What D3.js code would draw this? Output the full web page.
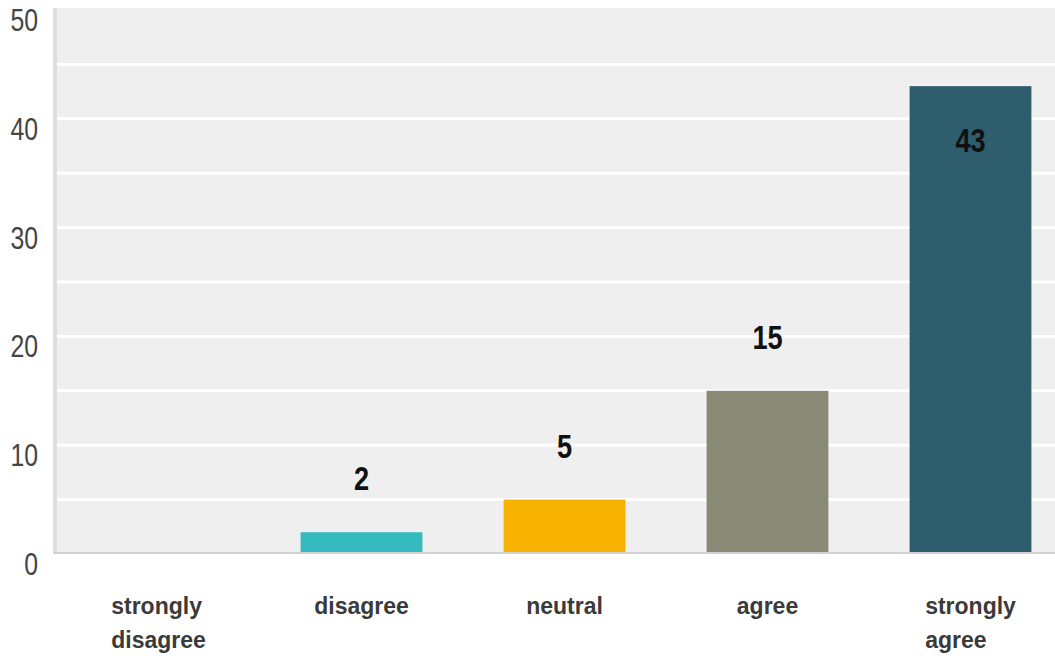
<!DOCTYPE html>
<html>
<head>
<meta charset="utf-8">
<script src="https://cdn.jsdelivr.net/npm/d3@7"></script>
<style>
  html, body { margin: 0; padding: 0; background: #ffffff; }
  svg { display: block; }
</style>
</head>
<body>
<svg id="chart" width="1055" height="656"></svg>
<script>
const categories = ["strongly disagree", "disagree", "neutral", "agree", "strongly agree"];
const categoryLines = [["strongly", "disagree"], ["disagree"], ["neutral"], ["agree"], ["strongly", "agree"]];
const values = [0, 2, 5, 15, 43];
const colors = ["#35babf", "#35babf", "#f7b200", "#888a76", "#2e5d6d"];
const yTicks = [0, 10, 20, 30, 40, 50];
const gridValues = [5, 10, 15, 20, 25, 30, 35, 40, 45];

(function () {
const W = 1055;
const plotLeft = 57, plotTop = 8, plotBottom = 554;
const svg = d3.select("#chart");

const y = d3.scaleLinear().domain([0, 50]).range([plotBottom, 10]);
const x = d3.scaleBand().domain(categories).range([plotLeft, plotLeft + 1015])
  .paddingInner(0.4).paddingOuter(0.2);

// plot background
svg.append("rect").attr("x", plotLeft).attr("y", plotTop)
  .attr("width", W - plotLeft).attr("height", plotBottom - plotTop).attr("fill", "#efefef");
// left axis band
svg.append("rect").attr("x", 53).attr("y", plotTop)
  .attr("width", 4).attr("height", plotBottom - plotTop).attr("fill", "#dedede");

// gridlines
svg.append("g").selectAll("line").data(gridValues).join("line")
  .attr("x1", plotLeft).attr("x2", W)
  .attr("y1", d => y(d)).attr("y2", d => y(d))
  .attr("stroke", "#ffffff").attr("stroke-width", 3);

// bars
svg.append("g").selectAll("rect").data(values).join("rect")
  .attr("x", (d, i) => x(categories[i]))
  .attr("width", x.bandwidth())
  .attr("y", d => y(d))
  .attr("height", d => y(0) - y(d))
  .attr("fill", (d, i) => colors[i])
  .attr("display", d => d > 0 ? null : "none");

// bottom axis line
svg.append("line").attr("x1", 53).attr("x2", W)
  .attr("y1", y(0) - 1).attr("y2", y(0) - 1)
  .attr("stroke", "#d2d2d2").attr("stroke-width", 2);

// y tick labels
svg.append("g").selectAll("text").data(yTicks).join("text")
  .attr("transform", d => `translate(38,${y(d) + 21}) scale(0.8,1)`)
  .attr("text-anchor", "end")
  .attr("font-family", "'Liberation Sans Narrow', 'Liberation Sans', Arial, sans-serif")
  .attr("font-size", 31)
  .attr("fill", "#444444")
  .text(d => d);

// value labels
svg.append("g").selectAll("text").data(values).join("text")
  .attr("transform", (d) => {
    return null;
  })
  .attr("transform", (d, i) => {
    const cx = x(categories[i]) + x.bandwidth() / 2;
    const inside = y(d) < 150;
    const by = inside ? y(d) + 66 : y(d) - 42;
    return `translate(${cx},${by}) scale(0.8,1)`;
  })
  .attr("text-anchor", "middle")
  .attr("font-family", "'Liberation Sans Narrow', 'Liberation Sans', Arial, sans-serif")
  .attr("font-weight", "bold")
  .attr("font-size", 34)
  .attr("fill", "#111111")
  .attr("display", d => d > 0 ? null : "none")
  .text(d => d);

// category labels (block centered, lines left aligned)
const catG = svg.append("g");
categories.forEach((c, i) => {
  const cx = x(c) + x.bandwidth() / 2;
  const t = catG.append("text")
    .attr("font-family", "'Liberation Sans', Arial, sans-serif")
    .attr("font-weight", "bold")
    .attr("font-size", 23)
    .attr("fill", "#3a3a3a");
  categoryLines[i].forEach((ln, j) => {
    t.append("tspan").attr("y", 614 + j * 34).text(ln);
  });
  let maxW = 0;
  t.selectAll("tspan").each(function () {
    maxW = Math.max(maxW, this.getComputedTextLength());
  });
  t.selectAll("tspan").attr("x", cx - maxW / 2);
});
})();
</script>
</body>
</html>
